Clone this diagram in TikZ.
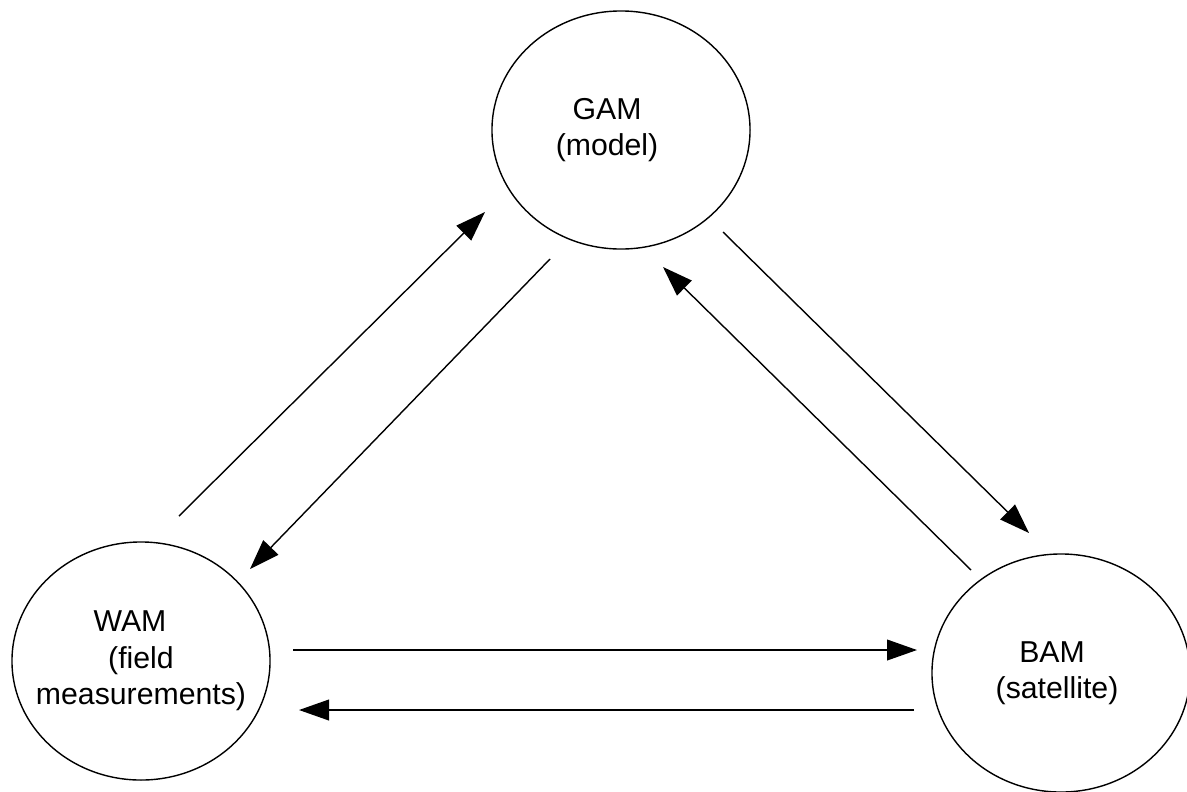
\documentclass[tikz,border=0pt]{standalone}
\usepackage{fontspec}
\setmainfont{Liberation Sans}
\usetikzlibrary{shapes.geometric,arrows.meta,positioning}

\begin{document}
\begin{tikzpicture}[x=0.025cm, y=-0.025cm, >={Triangle[length=0.75cm, width=0.52cm]},
    am/.style={draw, ellipse, line width=1pt, inner sep=0pt, minimum width=6.45cm, minimum height=5.95cm},
    amtext/.style={align=center, inner sep=0pt, font=\fontsize{21.5}{26}\selectfont},
    flow/.style={->, line width=1pt}]
    \useasboundingbox (0,0) rectangle (1187,791);
    \node[am, label={[amtext]center:GAM\hspace*{0.7cm}\\(model)\hspace*{0.7cm}}] (gam) at (621,130) {};
    \node[am, label={[amtext]center:WAM\hspace*{0.55cm}\\(field\hspace*{0.75cm}\\measurements)}] (wam) at (141,661) {};
    \node[am, label={[amtext]center:BAM\hspace*{0.45cm}\\(satellite)\hspace*{0.2cm}}] (bam) at (1061,673) {};
    \coordinate (w2g) at ([shift={(38,-145)}]wam.center);
    \coordinate (g-in-w) at ([shift={(-136,82)}]gam.center);
    \coordinate (g2w) at ([shift={(-71,129)}]gam.center);
    \coordinate (w-in-g) at ([shift={(109,-92)}]wam.center);
    \coordinate (g2b) at ([shift={(102,102)}]gam.center);
    \coordinate (b-in-g) at ([shift={(-32,-140)}]bam.center);
    \coordinate (b2g) at ([shift={(-90,-103)}]bam.center);
    \coordinate (g-in-b) at ([shift={(42,137)}]gam.center);
    \coordinate (w2b) at ([shift={(152,-11)}]wam.center);
    \coordinate (b-in-w) at ([shift={(-144,-23)}]bam.center);
    \coordinate (b2w) at ([shift={(-147,37)}]bam.center);
    \coordinate (w-in-b) at ([shift={(158,49)}]wam.center);
    \draw[flow] (w2g) -- (g-in-w);
    \draw[flow] (g2w) -- (w-in-g);
    \draw[flow] (g2b) -- (b-in-g);
    \draw[flow] (b2g) -- (g-in-b);
    \draw[flow] (w2b) -- (b-in-w);
    \draw[flow] (b2w) -- (w-in-b);
\end{tikzpicture}
\end{document}
